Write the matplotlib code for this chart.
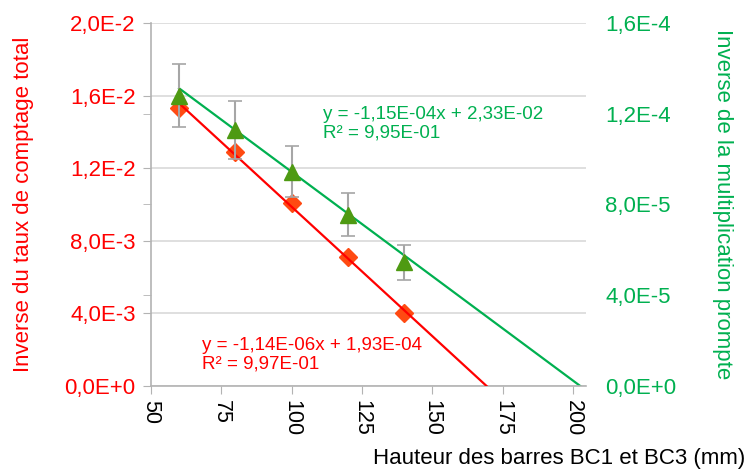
import matplotlib
matplotlib.use('Agg')
import matplotlib.pyplot as plt
from matplotlib.ticker import FuncFormatter, MultipleLocator, FixedLocator

plt.rcParams['font.family'] = ['Liberation Sans', 'DejaVu Sans']

# heights of the bars (mm)
hauteur = [60, 80, 100, 120, 140]
# inverse of total count rate (left axis)
inv_comptage = [0.0153, 0.0129, 0.0101, 0.0071, 0.0040]
# inverse of prompt multiplication (right axis) and its error
inv_mult = [1.28e-4, 1.13e-4, 9.45e-5, 7.55e-5, 5.45e-5]
inv_mult_err = [1.4e-5, 1.28e-5, 1.14e-5, 9.6e-6, 7.8e-6]

# trendline coefficients as shown on the chart
red_slope, red_icpt = -1.14e-06, 1.93e-04
green_slope, green_icpt = -1.15e-04, 2.33e-02
red_eq = "y = -1,14E-06x + 1,93E-04\nR² = 9,97E-01"
green_eq = "y = -1,15E-04x + 2,33E-02\nR² = 9,95E-01"

RED = '#FF0000'
ORANGE = '#FF4A12'
GREEN = '#00B050'
OLIVE = '#4E9A12'
GRAY = '#A6A6A6'


def sci_fmt(v, pos):
    if v == 0:
        return '0,0E+0'
    mant, exp = ('%.1E' % v).split('E')
    exp = int(exp)
    sign = '-' if exp < 0 else '+'
    return mant.replace('.', ',') + 'E' + sign + str(abs(exp))


fig = plt.figure(figsize=(7.53, 4.71), dpi=100)
ax = fig.add_axes([0.2005, 0.1805, 0.5775, 0.7707])
ax2 = ax.twinx()

# left axis series
ax.plot(hauteur, inv_comptage, 'D', color=ORANGE, markersize=9.5, zorder=3)
x_g = [hauteur[0], -green_icpt / green_slope]
ax.plot(x_g, [green_slope * x + green_icpt for x in x_g], color=GREEN, lw=1.6, zorder=2)

# right axis series
x_r = [hauteur[0], -red_icpt / red_slope]
ax2.plot(x_r, [red_slope * x + red_icpt for x in x_r], color=RED, lw=1.6, zorder=2)
ax2.errorbar(hauteur, inv_mult, yerr=inv_mult_err, fmt='none', ecolor=GRAY,
             elinewidth=1.5, capsize=5, capthick=1.2, zorder=3)
ax2.plot(hauteur, inv_mult, '^', color=OLIVE, markersize=11, zorder=4)

ax.set_xlim(50, 204.6)
ax.set_ylim(0, 0.02)
ax2.set_ylim(0, 1.6e-4)

ax.xaxis.set_major_locator(MultipleLocator(25))
ax.yaxis.set_major_locator(MultipleLocator(0.004))
ax.yaxis.set_minor_locator(FixedLocator([0.005, 0.01, 0.015]))
ax2.yaxis.set_major_locator(MultipleLocator(4e-5))
ax.yaxis.set_major_formatter(FuncFormatter(sci_fmt))
ax2.yaxis.set_major_formatter(FuncFormatter(sci_fmt))

ax.grid(axis='y', color='#D9D9D9', lw=1.2)
ax.set_axisbelow(True)

for s in ['top', 'right']:
    ax.spines[s].set_visible(False)
for s in ['left', 'bottom']:
    ax.spines[s].set_color('#B3B3B3')
    ax.spines[s].set_linewidth(1.2)
for s in ax2.spines.values():
    s.set_visible(False)

ax.tick_params(axis='y', which='both', direction='out', length=6, color='#B3B3B3',
               labelcolor=RED, labelsize=16, pad=5)
ax.tick_params(axis='x', direction='out', length=6, color='#B3B3B3',
               labelcolor='black', labelsize=15.5, labelrotation=270, pad=4)
ax2.tick_params(axis='y', length=0, labelcolor=GREEN, labelsize=16, pad=14)

ax.set_ylabel('Inverse du taux de comptage total', color=RED, fontsize=16, labelpad=22)
ax2.set_ylabel('Inverse de la multiplication prompte', color=GREEN, fontsize=16,
               rotation=270, labelpad=41)
fig.text(0.99, 0.027, 'Hauteur des barres BC1 et BC3 (mm)', ha='right', va='center',
         fontsize=16)

ax.text(111.1, 0.01444, green_eq, color=GREEN, fontsize=13.5, va='center', ha='left',
        linespacing=1.1)
ax.text(68.1, 0.00171, red_eq, color=RED, fontsize=13.5, va='center', ha='left',
        linespacing=1.1)

fig.savefig('out.png', dpi=100)
